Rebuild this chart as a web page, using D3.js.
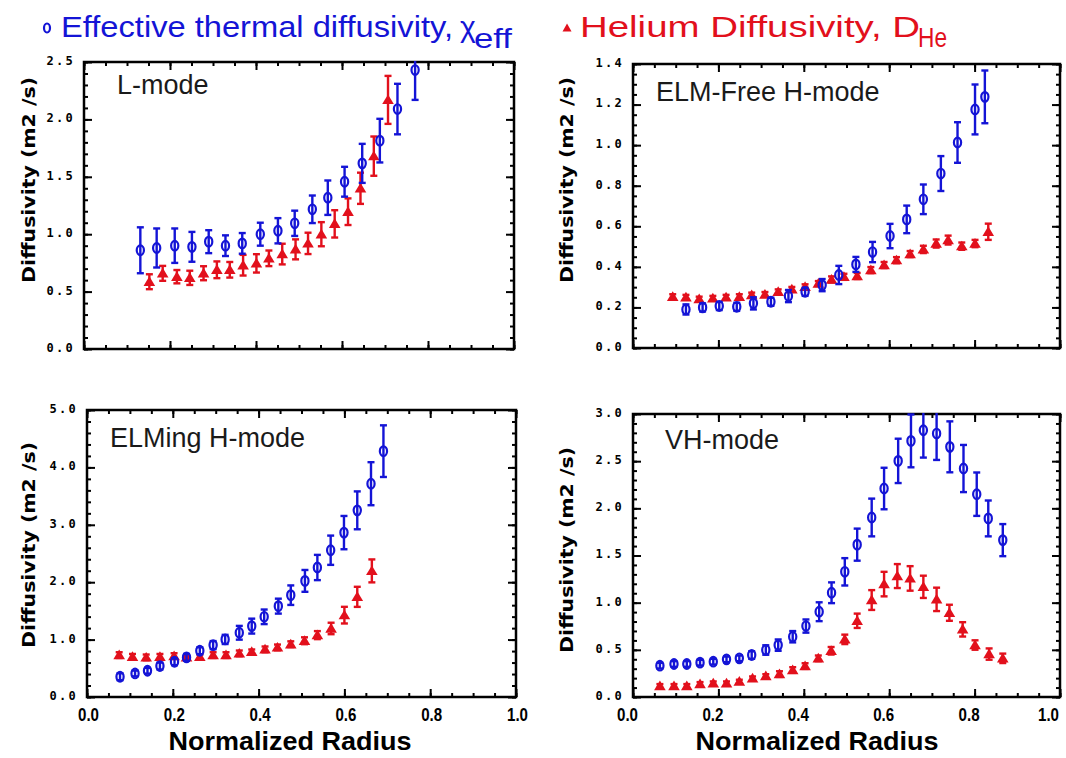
<!DOCTYPE html>
<html><head><meta charset="utf-8">
<script src="https://cdn.jsdelivr.net/npm/d3@7"></script>
<style>body{margin:0;background:#fff;} svg{display:block;}</style>
</head><body>
<svg id="chart" width="1066" height="758"></svg>
<script>
// ---------------- DATA ----------------
// L-mode
const lChiR = [0.131,0.169,0.211,0.251,0.290,0.329,0.368,0.410,0.451,0.490,0.531,0.567,0.606,0.647,0.688,0.729,0.770];
const lChiV = [0.86,0.88,0.90,0.89,0.935,0.90,0.92,1.00,1.03,1.095,1.217,1.318,1.457,1.617,1.815,2.09,2.43];
const lChiE = [0.20,0.17,0.15,0.13,0.10,0.09,0.09,0.10,0.11,0.11,0.12,0.15,0.13,0.17,0.19,0.22,0.26];
const lHeR  = [0.152,0.183,0.216,0.246,0.278,0.309,0.339,0.370,0.401,0.430,0.461,0.492,0.521,0.552,0.583,0.614,0.643,0.674,0.707];
const lHeV  = [0.586,0.659,0.63,0.62,0.66,0.69,0.69,0.73,0.746,0.79,0.827,0.868,0.92,1.0,1.09,1.196,1.40,1.68,2.17];
const lHeE  = [0.065,0.065,0.058,0.062,0.061,0.073,0.068,0.09,0.08,0.068,0.09,0.087,0.093,0.105,0.119,0.116,0.136,0.171,0.209];
// ELM-Free H-mode
const fChiR = [0.124,0.163,0.202,0.243,0.282,0.323,0.364,0.403,0.443,0.482,0.522,0.561,0.602,0.641,0.680,0.721,0.760,0.801,0.824];
const fChiV = [0.19,0.20,0.207,0.203,0.22,0.228,0.256,0.277,0.31,0.36,0.412,0.473,0.552,0.634,0.733,0.86,1.013,1.176,1.238];
const fChiE = [0.025,0.02,0.02,0.02,0.03,0.02,0.03,0.02,0.03,0.045,0.037,0.05,0.06,0.068,0.073,0.086,0.10,0.123,0.13];
const fHeR  = [0.093,0.124,0.155,0.187,0.218,0.249,0.278,0.309,0.340,0.372,0.403,0.434,0.465,0.494,0.525,0.557,0.588,0.617,0.649,0.680,0.710,0.738,0.770,0.801,0.832];
const fHeV  = [0.253,0.25,0.241,0.245,0.25,0.253,0.261,0.264,0.277,0.289,0.302,0.318,0.338,0.351,0.355,0.384,0.409,0.433,0.463,0.486,0.515,0.532,0.502,0.515,0.573];
const fHeE  = [0.012,0.012,0.012,0.012,0.012,0.012,0.012,0.012,0.012,0.012,0.012,0.012,0.015,0.015,0.015,0.015,0.015,0.015,0.015,0.018,0.02,0.022,0.018,0.018,0.04];
// ELMing H-mode
const eChiR = [0.077,0.112,0.141,0.170,0.204,0.232,0.263,0.294,0.322,0.355,0.384,0.413,0.446,0.475,0.508,0.537,0.568,0.599,0.630,0.662,0.691];
const eChiV = [0.353,0.41,0.457,0.539,0.614,0.69,0.806,0.904,1.003,1.119,1.235,1.397,1.583,1.774,2.023,2.256,2.557,2.864,3.252,3.716,4.283];
const eChiE = [0.06,0.05,0.05,0.06,0.06,0.06,0.06,0.07,0.08,0.12,0.13,0.127,0.13,0.17,0.19,0.22,0.255,0.29,0.33,0.375,0.45];
const eHeR  = [0.075,0.106,0.138,0.170,0.203,0.232,0.263,0.294,0.324,0.355,0.384,0.415,0.444,0.475,0.507,0.537,0.569,0.600,0.630,0.664];
const eHeV  = [0.73,0.70,0.69,0.70,0.713,0.69,0.70,0.73,0.73,0.76,0.788,0.83,0.864,0.92,0.98,1.078,1.194,1.426,1.745,2.197];
const eHeE  = [0.05,0.05,0.05,0.05,0.05,0.04,0.04,0.05,0.05,0.05,0.04,0.05,0.05,0.05,0.06,0.07,0.10,0.145,0.175,0.20];
// VH-mode
const vChiR = [0.063,0.096,0.126,0.157,0.188,0.219,0.249,0.278,0.311,0.340,0.374,0.405,0.436,0.465,0.496,0.525,0.559,0.588,0.621,0.651,0.680,0.711,0.742,0.774,0.805,0.832,0.866];
const vChiV = [0.332,0.35,0.35,0.364,0.374,0.399,0.41,0.445,0.498,0.55,0.639,0.752,0.904,1.105,1.327,1.615,1.903,2.21,2.503,2.715,2.828,2.793,2.652,2.422,2.15,1.893,1.663];
const vChiE = [0.03,0.03,0.03,0.03,0.03,0.03,0.03,0.04,0.05,0.06,0.06,0.07,0.10,0.11,0.145,0.17,0.20,0.22,0.235,0.28,0.29,0.28,0.27,0.25,0.23,0.19,0.17];
const vHeR  = [0.063,0.096,0.126,0.157,0.188,0.219,0.249,0.280,0.311,0.343,0.374,0.403,0.434,0.464,0.496,0.525,0.559,0.588,0.619,0.649,0.680,0.711,0.741,0.772,0.801,0.834,0.866];
const vHeV  = [0.117,0.117,0.117,0.138,0.145,0.145,0.163,0.198,0.222,0.243,0.286,0.328,0.41,0.49,0.611,0.808,1.028,1.197,1.282,1.257,1.168,1.035,0.893,0.717,0.551,0.455,0.41];
const vHeE  = [0.02,0.02,0.02,0.02,0.02,0.02,0.02,0.02,0.02,0.03,0.03,0.03,0.03,0.04,0.05,0.076,0.105,0.13,0.127,0.13,0.118,0.124,0.085,0.076,0.05,0.06,0.05];

const panelNames = ["L-mode","ELM-Free H-mode","ELMing H-mode","VH-mode"];
const yMaxes = [2.5, 1.4, 5.0, 3.0];
const yMajorSteps = [0.5, 0.2, 1.0, 0.5];
const yMinorSteps = [0.1, 0.05, 0.2, 0.1];
const xTickLabels = ["0.0","0.2","0.4","0.6","0.8","1.0"];
const legendChi = "Effective thermal diffusivity,";
const legendChiSym = "χ", legendChiSub = "eff";
const legendHe = "Helium Diffusivity, D";
const legendHeSub = "He";
const yTitle = "Diffusivity (m2 /s)";
const xTitle = "Normalized Radius";

// ---------------- LAYOUT ----------------
const BLUE = "#1414d6", RED = "#e2101c";
const NARROW = "'Liberation Sans Narrow','Arial Narrow','Liberation Sans',Arial,sans-serif";
const svg = d3.select("#chart");
svg.append("rect").attr("width",1066).attr("height",758).attr("fill","#fff");

const layout = [
  {box:[84,514,62,349],  lab:[117,94],  titleX:35,  titleY:180, xLabels:false, xLabDx:0, xTitleX:0},
  {box:[633,1060,64,348],lab:[656,101], titleX:573, titleY:180, xLabels:false, xLabDx:0, xTitleX:0},
  {box:[87,516,410,697], lab:[110,447], titleX:35,  titleY:545, xLabels:true,  xLabDx:1, xTitleX:290},
  {box:[633,1060,414,697],lab:[665,449],titleX:573, titleY:550, xLabels:true,  xLabDx:-6, xTitleX:817}
];
const series = [
  {chi:[lChiR,lChiV,lChiE], he:[lHeR,lHeV,lHeE]},
  {chi:[fChiR,fChiV,fChiE], he:[fHeR,fHeV,fHeE]},
  {chi:[eChiR,eChiV,eChiE], he:[eHeR,eHeV,eHeE]},
  {chi:[vChiR,vChiV,vChiE], he:[vHeR,vHeV,vHeE]}
];
const triPath = "M0,-5.5L5.8,4.2L-5.8,4.2Z";

layout.forEach((L, i) => {
  const [x0,x1,y0,y1] = L.box;
  const x = d3.scaleLinear().domain([0,1]).range([x0,x1]);
  const y = d3.scaleLinear().domain([0,yMaxes[i]]).range([y1,y0]);
  const g = svg.append("g");
  const cid = "clip"+i;
  svg.append("clipPath").attr("id",cid).append("rect")
    .attr("x",x0).attr("y",y0-1).attr("width",x1-x0).attr("height",y1-y0+1);

  const xMaj = d3.range(0,1.0001,0.2);
  const xMin = d3.range(0,1.0001,0.05);
  const yMaj = d3.range(0,yMaxes[i]+1e-6,yMajorSteps[i]);
  const yMin = d3.range(0,yMaxes[i]+1e-6,yMinorSteps[i]);

  function axis(gen, tr, vals, size, fmt){
    const a = g.append("g").attr("transform",tr)
      .call(gen.tickValues(vals).tickSizeInner(-size).tickSizeOuter(0).tickFormat(fmt||(()=>"")));
    a.select(".domain").remove();
    a.selectAll(".tick line").attr("stroke","#000").attr("stroke-width",2);
    return a;
  }
  axis(d3.axisBottom(x), `translate(0,${y1})`, xMin, 4);
  axis(d3.axisTop(x), `translate(0,${y0})`, xMin, 4);
  axis(d3.axisTop(x), `translate(0,${y0})`, xMaj, 8);
  const xb = axis(d3.axisBottom(x), `translate(0,${y1})`, xMaj, 8,
        L.xLabels ? ((d,k)=>xTickLabels[k]) : null);
  xb.selectAll("text").attr("font-family",NARROW)
    .attr("font-weight","bold").attr("font-size",19).attr("fill","#000").attr("dy","1.1em")
    .attr("dx",L.xLabDx)
    .attr("textLength",21).attr("lengthAdjust","spacingAndGlyphs");
  if (i===3) xb.selectAll("text").filter((d,k)=>k===5).attr("dx",-12);
  axis(d3.axisLeft(y), `translate(${x0},0)`, yMin, 4);
  axis(d3.axisRight(y), `translate(${x1},0)`, yMin, 4);
  axis(d3.axisRight(y), `translate(${x1},0)`, yMaj, 8);
  const yl = axis(d3.axisLeft(y), `translate(${x0},0)`, yMaj, 8, d3.format(".1f"));
  yl.call(s=>s.selectAll("text").attr("x",-9).attr("dy","0.2em")
    .attr("font-family","'DejaVu Sans Mono',monospace").attr("font-weight","bold")
    .attr("font-size",12).attr("letter-spacing","2.3px").attr("fill","#000"));

  // frame
  g.append("rect").attr("x",x0).attr("y",y0).attr("width",x1-x0).attr("height",y1-y0)
    .attr("fill","none").attr("stroke","#000").attr("stroke-width",2.5);

  // panel label
  g.append("text").attr("x",L.lab[0]).attr("y",L.lab[1]).text(panelNames[i])
    .attr("font-family","'Liberation Sans',Arial,sans-serif").attr("font-size",27).attr("fill","#1a1a1a");

  // y title
  g.append("text").attr("transform",`translate(${L.titleX},${L.titleY}) rotate(-90)`)
    .attr("text-anchor","middle").text(yTitle)
    .attr("font-family","'DejaVu Sans',sans-serif").attr("font-weight","bold").attr("font-size",17)
    .attr("textLength",206).attr("lengthAdjust","spacingAndGlyphs").attr("fill","#000");

  if (L.xLabels){
    g.append("text").attr("x",L.xTitleX).attr("y",750).attr("text-anchor","middle").text(xTitle)
      .attr("font-family",NARROW).attr("font-weight","bold").attr("font-size",26)
      .attr("textLength",243).attr("lengthAdjust","spacingAndGlyphs").attr("fill","#000");
  }

  const data = g.append("g").attr("clip-path",`url(#${cid})`);
  function drawSeries(s, color, marker){
    const [R,V,E] = s;
    const pts = R.map((r,k)=>({r, v:V[k], e:E[k]}));
    const eb = data.append("g").attr("stroke",color).attr("stroke-width",2.4).attr("fill","none");
    pts.forEach(p=>{
      const xx = x(p.r), ya = y(p.v+p.e), yb = y(p.v-p.e);
      eb.append("line").attr("x1",xx).attr("x2",xx).attr("y1",ya).attr("y2",yb);
      eb.append("line").attr("x1",xx-3.5).attr("x2",xx+3.5).attr("y1",ya).attr("y2",ya);
      eb.append("line").attr("x1",xx-3.5).attr("x2",xx+3.5).attr("y1",yb).attr("y2",yb);
    });
    if (marker==="tri"){
      data.append("g").selectAll("path").data(pts).join("path")
        .attr("d",triPath).attr("transform",p=>`translate(${x(p.r)},${y(p.v)})`).attr("fill",color);
    } else {
      data.append("g").selectAll("ellipse").data(pts).join("ellipse")
        .attr("cx",p=>x(p.r)).attr("cy",p=>y(p.v)).attr("rx",3.6).attr("ry",4.8)
        .attr("fill","none").attr("stroke",color).attr("stroke-width",2.2);
    }
  }
  drawSeries(series[i].he, RED, "tri");
  drawSeries(series[i].chi, BLUE, "circ");
});

// ---------------- LEGEND ----------------
const lg = svg.append("g").attr("font-family",NARROW);
lg.append("ellipse").attr("cx",47).attr("cy",28).attr("rx",3).attr("ry",4.5)
  .attr("fill","none").attr("stroke",BLUE).attr("stroke-width",2.2);
lg.append("text").attr("x",61).attr("y",37).attr("fill",BLUE).attr("font-size",30)
  .attr("textLength",392).attr("lengthAdjust","spacingAndGlyphs").text(legendChi);
lg.append("text").attr("x",460).attr("y",37).attr("fill",BLUE).attr("font-size",30).text(legendChiSym);
lg.append("text").attr("x",474).attr("y",48).attr("fill",BLUE).attr("font-size",27)
  .attr("textLength",38).attr("lengthAdjust","spacingAndGlyphs").text(legendChiSub);
lg.append("path").attr("d","M0,-4.5L4.5,3.5L-4.5,3.5Z").attr("transform","translate(567,28)").attr("fill",RED);
lg.append("text").attr("x",580).attr("y",37).attr("fill",RED).attr("font-size",30)
  .attr("textLength",340).attr("lengthAdjust","spacingAndGlyphs").text(legendHe);
lg.append("text").attr("x",918).attr("y",47).attr("fill",RED).attr("font-size",27)
  .attr("textLength",29).attr("lengthAdjust","spacingAndGlyphs").text(legendHeSub);
</script>
</body></html>
